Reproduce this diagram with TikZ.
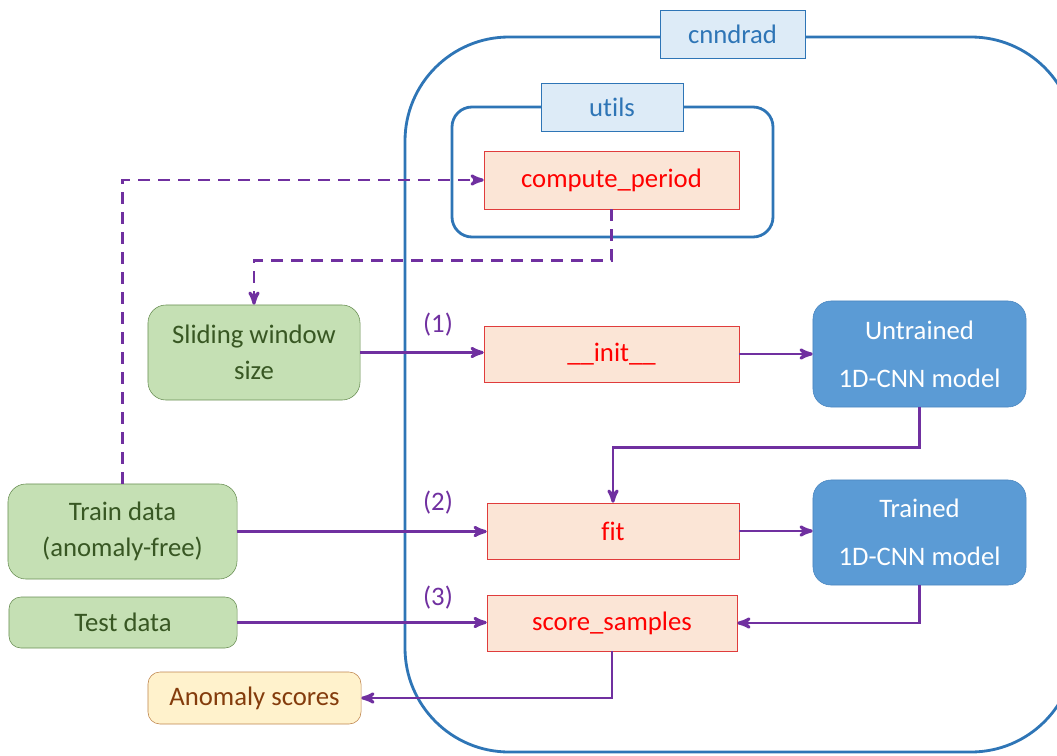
\documentclass[tikz,border=0pt]{standalone}
\usepackage{fontspec}
\setmainfont[Ligatures=NoCommon]{Carlito}
\usepackage{xcolor}
\usepackage{tikz}
\usetikzlibrary{arrows}

\definecolor{pkgblue}{HTML}{2E75B6}
\definecolor{pkgfill}{HTML}{DDEBF7}
\definecolor{funcred}{HTML}{E03C3C}
\definecolor{funcfill}{HTML}{FBE5D6}
\definecolor{datagreen}{HTML}{6A8F55}
\definecolor{datafill}{HTML}{C5E0B4}
\definecolor{datatext}{HTML}{385723}
\definecolor{modelblue}{HTML}{5B9BD5}
\definecolor{modelborder}{HTML}{4A86C0}
\definecolor{scoreborder}{HTML}{C0864E}
\definecolor{scorefill}{HTML}{FFF2CC}
\definecolor{scoretext}{HTML}{843C0C}
\definecolor{flowpurple}{HTML}{7030A0}

\begin{document}
\begin{tikzpicture}[>=stealth',x=0.025cm,y=-0.025cm]
\tikzstyle{every node}=[font=\fontsize{19}{23}\selectfont]
\tikzstyle{container}=[draw=pkgblue,line width=2pt]
\tikzstyle{pkg}=[draw=pkgblue,fill=pkgfill,text=pkgblue,thin,minimum height=1.2cm]
\tikzstyle{func}=[draw=funcred,fill=funcfill,text=red,thin,minimum height=1.4cm]
\tikzstyle{data}=[draw=datagreen,fill=datafill,text=datatext,thin,rounded corners=0.45cm,
                  align=center,font=\fontsize{19}{26}\selectfont]
\tikzstyle{model}=[draw=modelborder,fill=modelblue,text=white,thin,rounded corners=0.45cm,
                   align=center,minimum width=5.325cm,font=\fontsize{19}{34}\selectfont]
\tikzstyle{result}=[draw=scoreborder,fill=scorefill,text=scoretext,thin,rounded corners=0.3cm,
                    minimum width=5.325cm,minimum height=1.3cm]
\tikzstyle{stepno}=[text=flowpurple]
\tikzstyle{flow}=[->,draw=flowpurple,line width=2.1pt]
\tikzstyle{hint}=[flow,dash pattern=on 8.5pt off 5.7pt]

\useasboundingbox (0,0) rectangle (1057,755);
\clip (0,0) rectangle (1057,755);

% packages
\draw[container,rounded corners=2.6cm] (405,37) rectangle (1075,752);
\draw[container,rounded corners=0.5cm] (452,107) rectangle (773,237);
\node[pkg,minimum width=3.625cm] (CNNDRAD) at (732.5,34) {cnndrad};
\node[pkg,minimum width=3.55cm] (UTILS) at (612,107) {utils};

% functions
\node[func,minimum width=6.375cm,minimum height=1.45cm] (COMP) at (611.5,180) {compute\_period};
\node[func,minimum width=6.375cm] (INIT) at (611.5,354) {\_\_init\_\_};
\node[func,minimum width=6.3cm] (FIT) at (613,531) {fit};
\node[func,minimum width=6.25cm] (SCORE) at (612,623) {score\_samples};

% inputs and outputs
\node[data,minimum width=5.3cm,minimum height=2.375cm] (SLIDE) at (254,352.5) {Sliding window\\size};
\node[data,minimum width=5.725cm,minimum height=2.375cm] (TRAIN) at (122.5,531.5) {Train data\\(anomaly-free)};
\node[data,minimum width=5.7cm,minimum height=1.275cm,rounded corners=0.3cm] (TEST) at (123,622.5) {Test data};
\node[result] (ANOM) at (254.5,698) {Anomaly scores};
\node[model,minimum height=2.65cm] (UNTR) at (919.5,354) {Untrained\\1D-CNN model};
\node[model,minimum height=2.625cm] (TR) at (919.5,532.5) {Trained\\1D-CNN model};

\node[stepno] (ONE) at (438,325) {(1)};
\node[stepno] (TWO) at (438,503) {(2)};
\node[stepno] (THREE) at (438,598) {(3)};

% flows
\draw[hint] (TRAIN.north) |- (COMP.west);
\draw[hint] (COMP.south) -- ++(0,51) -| (SLIDE.north);
\draw[flow] (SLIDE.east) -- (SLIDE.east -| INIT.west);
\draw[flow] (INIT.east) -- (INIT.east -| UNTR.west);
\draw[flow] (UNTR.south) -- ++(0,40) -| (FIT.north);
\draw[flow] (TRAIN.east) -- (TRAIN.east -| FIT.west);
\draw[flow] (FIT.east) -- (FIT.east -| TR.west);
\draw[flow] (TEST.east) -- (TEST.east -| SCORE.west);
\draw[flow] (TR.south) |- (SCORE.east);
\draw[flow] (SCORE.south) |- (ANOM.east);
\end{tikzpicture}
\end{document}
